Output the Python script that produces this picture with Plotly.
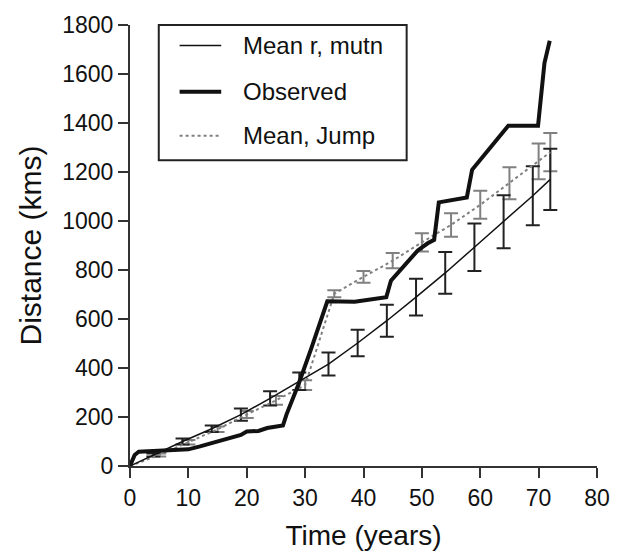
import plotly.graph_objects as go

# Mean r, mutn (black thin line with black error bars)
mutn_years = [4, 9, 14, 19, 24, 29, 34, 39, 44, 49, 54, 59, 64, 69, 72]
mutn_mean = [45, 100, 152, 210, 276, 346, 416, 502, 593, 689, 788, 893, 997, 1103, 1170]
mutn_err = [6, 12, 13, 25, 29, 36, 47, 54, 65, 75, 85, 97, 108, 120, 125]

# Mean, Jump (grey dotted line with grey error bars)
jump_years = [5, 10, 15, 20, 25, 30, 35, 40, 45, 50, 55, 60, 65, 70, 72]
jump_mean = [45, 97, 150, 210, 268, 330, 703, 772, 838, 913, 984, 1066, 1154, 1243, 1281]
jump_err = [6, 9, 11, 14, 18, 20, 14, 24, 31, 37, 48, 57, 65, 73, 78]

# Observed (thick black line)
obs_years = [0, 0.8, 1.5, 5, 7, 10, 12, 15, 17, 19, 20, 22, 23.5, 26.2, 26.8, 28.9, 31.1,
             33.8, 38.5, 43.9, 44.7, 49.3, 51, 52.1, 52.9, 57.7, 58.6, 64.8, 69.9, 71.0, 71.9]
obs_dist = [0, 45, 58, 62, 62, 68, 80, 100, 113, 127, 141, 143, 155, 165, 210, 336, 483,
            672, 670, 689, 756, 880, 909, 923, 1076, 1096, 1209, 1389, 1389, 1645, 1736]

legend_labels = ["Mean r, mutn", "Observed", "Mean, Jump"]

x_ticks = list(range(0, 81, 10))
y_ticks = list(range(0, 1801, 200))

BLACK = "#111111"
GREY = "#808080"
FONT = "Liberation Sans, Arial, Helvetica, sans-serif"

fig = go.Figure()

# grey error bars
fig.add_trace(go.Scatter(
    x=jump_years, y=jump_mean, mode="markers",
    marker=dict(size=1, opacity=0),
    error_y=dict(type="data", array=jump_err, visible=True, color=GREY, thickness=2, width=7),
    showlegend=False, hoverinfo="skip"))
# black error bars
fig.add_trace(go.Scatter(
    x=mutn_years, y=mutn_mean, mode="markers",
    marker=dict(size=1, opacity=0),
    error_y=dict(type="data", array=mutn_err, visible=True, color="#222222", thickness=2, width=7),
    showlegend=False, hoverinfo="skip"))

line_styles = {
    "Mean r, mutn": dict(color=BLACK, width=1.5),
    "Observed": dict(color=BLACK, width=4),
    "Mean, Jump": dict(color=GREY, width=2, dash="dot"),
}

# lines
fig.add_trace(go.Scatter(
    x=[0] + jump_years, y=[0] + jump_mean, mode="lines",
    line=line_styles["Mean, Jump"], name="Mean, Jump", showlegend=False))
fig.add_trace(go.Scatter(
    x=[0] + mutn_years, y=[0] + mutn_mean, mode="lines",
    line=line_styles["Mean r, mutn"], name="Mean r, mutn", showlegend=False))
fig.add_trace(go.Scatter(
    x=obs_years, y=obs_dist, mode="lines",
    line=line_styles["Observed"], name="Observed", showlegend=False))

# legend box drawn in paper coordinates
fig.add_shape(type="rect", xref="paper", yref="paper",
              x0=0.0616, x1=0.5924, y0=0.6933, y1=1.0,
              line=dict(color="#222222", width=2), fillcolor="white", layer="above")
row_y = [0.9533, 0.8489, 0.7489]
for lab, yy in zip(legend_labels, row_y):
    fig.add_shape(type="line", xref="paper", yref="paper",
                  x0=0.1062, x1=0.1953, y0=yy, y1=yy,
                  line=line_styles[lab], layer="above")
    fig.add_annotation(xref="paper", yref="paper", x=0.2378, y=yy,
                       xanchor="left", yanchor="middle", text=lab, showarrow=False,
                       font=dict(size=24, family=FONT, color=BLACK))

fig.update_layout(
    width=622, height=558,
    margin=dict(l=130, r=21, t=24, b=84),
    paper_bgcolor="white", plot_bgcolor="white",
    font=dict(family=FONT, size=22, color=BLACK),
    showlegend=False,
)
fig.update_xaxes(
    range=[0, 80], tickvals=x_ticks, ticks="outside", ticklen=10, tickwidth=1.5,
    tickcolor="#333333", showline=True, linecolor="#333333", linewidth=2,
    showgrid=False, zeroline=False,
    tickfont=dict(size=23, family=FONT, color=BLACK),
    title=dict(text="Time (years)", font=dict(size=28, family=FONT, color=BLACK), standoff=16))
fig.update_yaxes(
    range=[0, 1800], tickvals=y_ticks, ticks="outside", ticklen=10, tickwidth=1.5,
    tickcolor="#333333", showline=True, linecolor="#333333", linewidth=2,
    showgrid=False, zeroline=False,
    tickfont=dict(size=23, family=FONT, color=BLACK),
    title=dict(text="Distance (kms)", font=dict(size=30, family=FONT, color=BLACK), standoff=12))

fig.write_html("out.html")
